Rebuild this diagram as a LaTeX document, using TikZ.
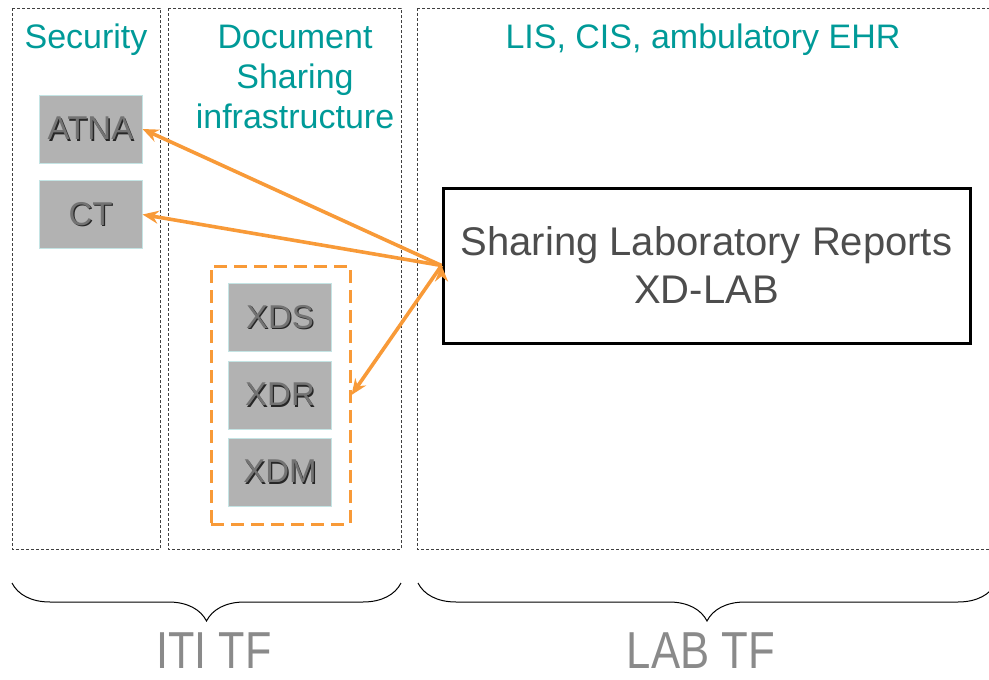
\documentclass[tikz,border=0pt]{standalone}
\usepackage{fontspec}
\setmainfont{Liberation Sans}
\usetikzlibrary{arrows.meta,decorations.pathreplacing}

\definecolor{titleteal}{HTML}{009A98}
\definecolor{arroworange}{HTML}{F89A38}
\definecolor{boxgray}{HTML}{B2B2B2}
\definecolor{boxedge}{HTML}{C4E4E4}
\definecolor{labtext}{HTML}{4D4D4D}
\definecolor{tftext}{HTML}{8A8A8A}

% text with a small drop shadow
\newcommand{\shtxt}[1]{\rlap{\kern1.3pt\raisebox{-1.3pt}{\color{black!85}#1}}{\color{black!55}#1}}

\begin{document}
\begin{tikzpicture}[x=1pt,y=-1pt,
    panel/.style={draw=black!75,line width=0.9pt,dash pattern=on 3pt off 2pt},
    title/.style={text=titleteal,font=\fontsize{34}{40}\selectfont,align=center,inner sep=0pt},
    profile/.style={draw=boxedge,fill=boxgray,line width=1pt,minimum width=103pt,minimum height=68pt,inner sep=0pt,font=\fontsize{33}{40}\selectfont},
    arrow/.style={draw=arroworange,line width=3.6pt,-{Stealth[length=16pt,width=13pt]}},
    brace/.style={decorate,decoration={brace,mirror,amplitude=38pt},line width=1pt},
    tflabel/.style={text=tftext,font=\fontsize{52}{60}\selectfont,inner sep=0pt,anchor=base}]
    \useasboundingbox (0,0) rectangle (989,680);
    \clip (0,0) rectangle (989,680);

    % panels
    \draw[panel] (12,8) rectangle (160,549);
    \draw[panel] (168,8) rectangle (401,549);
    \draw[panel] (417,8) rectangle (1010,549);

    \node[title,anchor=base] (sec) at (86,48) {Security};
    \node[title,anchor=north] (docsh) at (295,25) {Document\\Sharing\\infrastructure};
    \node[title,anchor=base] (lis) at (703,48) {LIS, CIS, ambulatory EHR};

    % profiles
    \node[profile] (atna) at (90.5,129) {\shtxt{ATNA}};
    \node[profile] (ct) at (90.5,214.5) {\shtxt{CT}};
    \node[draw=arroworange,line width=3pt,dash pattern=on 13pt off 7pt,minimum width=139pt,minimum height=258pt] (xdgroup) at (280.5,395) {};
    \node[profile] (xds) at (280,317.5) {\shtxt{XDS}};
    \node[profile] (xdr) at (280,395) {\shtxt{XDR}};
    \node[profile] (xdm) at (280,472) {\shtxt{XDM}};

    \node[draw=black,line width=3pt,minimum width=527pt,minimum height=155pt,align=center,text=labtext,font=\fontsize{40}{48}\selectfont] (xdlab) at (706.5,265.5) {Sharing Laboratory Reports\\XD-LAB};

    \path[arrow]
        (xdlab.west) edge (atna.east)
        (xdlab.west) edge (ct.east)
        (xdlab.west) edge (xdgroup.east);

    % braces
    \coordinate (itil) at (12,583);
    \coordinate (itir) at (401,583);
    \coordinate (labl) at (418,583);
    \coordinate (labr) at (996,583);
    \draw[brace] (itil) -- (itir);
    \draw[brace] (labl) -- (labr);
    \node[tflabel] (iti) at (214,668) {\scalebox{0.83}[1]{ITI TF}};
    \node[tflabel] (lab) at (701,668) {\scalebox{0.84}[1]{LAB TF}};
\end{tikzpicture}
\end{document}
